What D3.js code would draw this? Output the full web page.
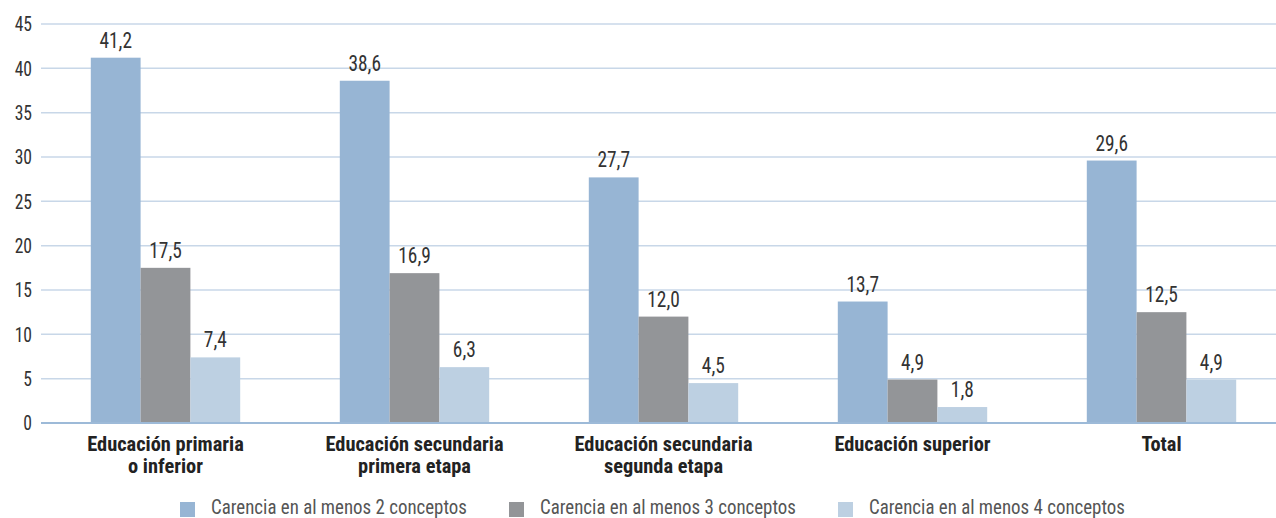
<!DOCTYPE html>
<html><head><meta charset="utf-8">
<script src="https://cdn.jsdelivr.net/npm/d3@7"></script>
<style>
body{margin:0;background:#fff;}
text{font-family:"Liberation Sans Narrow","Roboto Condensed","Arial Narrow",Roboto,sans-serif;}
</style></head>
<body><svg id="c" width="1276" height="518"></svg>
<script>
const categories = [["Educación primaria","o inferior"],["Educación secundaria","primera etapa"],["Educación secundaria","segunda etapa"],["Educación superior"],["Total"]];
const seriesNames = ["Carencia en al menos 2 conceptos","Carencia en al menos 3 conceptos","Carencia en al menos 4 conceptos"];
const s2 = [41.2, 38.6, 27.7, 13.7, 29.6];
const s3 = [17.5, 16.9, 12.0, 4.9, 12.5];
const s4 = [7.4, 6.3, 4.5, 1.8, 4.9];
const yTicks = [0,5,10,15,20,25,30,35,40,45];
const colors = ["#97b5d4","#939598","#bdd0e2"];

(function(){
const series = [s2,s3,s4];
const svg = d3.select("#c");
const mL = 41, mR = 1286, mT = 24, mB = 423;
const catIdx = categories.map((d,i)=>i);
const x0 = d3.scaleBand().domain(catIdx).range([mL,mR]).padding(0);
const x1 = d3.scaleBand().domain([0,1,2]).range([0,x0.bandwidth()]).paddingInner(0).paddingOuter(1);
const y = d3.scaleLinear().domain([0,45]).range([mB,mT]);
const sx = 0.88;

svg.append("g").selectAll("line").data(yTicks.filter(t=>t>0)).join("line")
  .attr("x1",mL).attr("x2",1276).attr("y1",d=>y(d)).attr("y2",d=>y(d))
  .attr("stroke","#c8d7e8").attr("stroke-width",1.5);
svg.append("g").selectAll("text").data(yTicks).join("text")
  .attr("transform",d=>`translate(32,${y(d)}) scale(${sx},1)`)
  .attr("dy","0.36em").attr("text-anchor","end")
  .attr("font-size",20).attr("fill","#333").text(d=>d);

const g = svg.append("g");
series.forEach((s,si)=>{
  g.selectAll(null).data(s).join("rect")
    .attr("x",(d,i)=>x0(i)+x1(si)).attr("width",x1.bandwidth())
    .attr("y",d=>y(d)).attr("height",d=>y(0)-y(d)).attr("fill",colors[si]);
  g.selectAll(null).data(s).join("text")
    .attr("transform",(d,i)=>`translate(${x0(i)+x1(si)+x1.bandwidth()/2},${y(d)-10}) scale(${sx},1)`)
    .attr("text-anchor","middle").attr("font-size",22).attr("fill","#333")
    .text(d=>d.toFixed(1).replace(".",","));
});
svg.append("line").attr("x1",mL).attr("x2",1276).attr("y1",y(0)).attr("y2",y(0))
  .attr("stroke","#9dbad8").attr("stroke-width",2);

categories.forEach((c,i)=>{
  const cx = x0(i)+x0.bandwidth()/2;
  const t = svg.append("text").attr("transform",`translate(${cx},451) scale(1.02,1)`)
    .attr("text-anchor","middle").attr("font-size",20).attr("font-weight","bold").attr("fill","#222");
  c.forEach((line,li)=>t.append("tspan").attr("x",0).attr("dy",li?22:0).text(line));
});

const legX = [180,509,838];
seriesNames.forEach((n,i)=>{
  svg.append("rect").attr("x",legX[i]).attr("y",502).attr("width",15).attr("height",15).attr("fill",colors[i]);
  svg.append("text").attr("transform",`translate(${legX[i]+31},514) scale(0.9,1)`)
    .attr("font-size",21).attr("fill","#555").text(n);
});
})();
</script></body></html>
